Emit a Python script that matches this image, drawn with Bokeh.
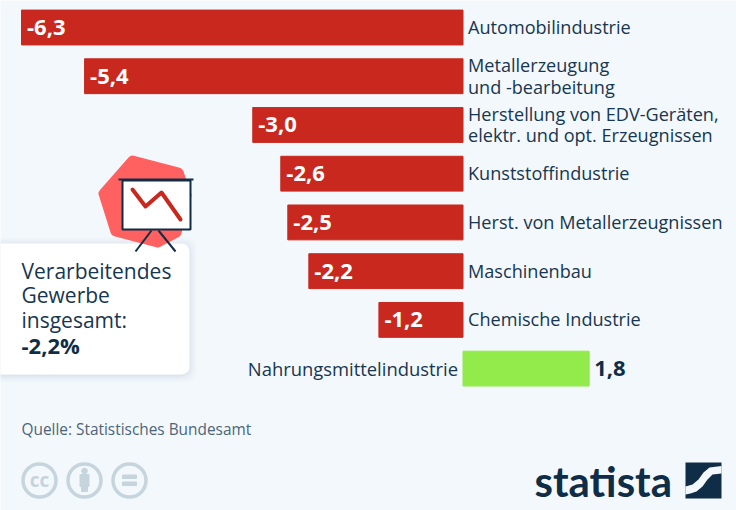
from bokeh.plotting import figure
from bokeh.models import Range1d
from bokeh.core.properties import value
from bokeh.embed import file_html
from bokeh.resources import INLINE

# ---- data
categories = ["Automobilindustrie", "Metallerzeugung\nund -bearbeitung",
              "Herstellung von EDV-Geräten,\nelektr. und opt. Erzeugnissen",
              "Kunststoffindustrie", "Herst. von Metallerzeugnissen",
              "Maschinenbau", "Chemische Industrie", "Nahrungsmittelindustrie"]
values = [-6.3, -5.4, -3.0, -2.6, -2.5, -2.2, -1.2, 1.8]
value_labels = ["-6,3", "-5,4", "-3,0", "-2,6", "-2,5", "-2,2", "-1,2", "1,8"]
callout_lines = ["Verarbeitendes", "Gewerbe", "insgesamt:"]
callout_total = "-2,2%"
source = "Quelle: Statistisches Bundesamt"

BG, RED, GREEN, NAVY = "#f3f8fc", "#c9281f", "#92eb4b", "#0f2d47"
LABEL, GREY, SALMON = "#17364f", "#c6d4dd", "#ff6060"
FONT = value("Open Sans")

W, H = 736, 510
p = figure(width=W, height=H, output_backend="svg", toolbar_location=None,
           x_range=Range1d(-6.5996, 3.9025), y_range=Range1d(9.9114, -0.5541),
           background_fill_color=BG, border_fill_color=BG, outline_line_color=None,
           min_border=0, min_border_left=0, min_border_right=0, min_border_top=0, min_border_bottom=0)
p.axis.visible = False
p.grid.visible = False
# overlay scale in page pixels for the decoration
p.extra_x_ranges["px"] = Range1d(0, 736)
p.extra_y_ranges["px"] = Range1d(510, 0)
PX = dict(x_range_name="px", y_range_name="px")

# ---- bars
idx = list(range(len(values)))
left = [min(v, 0) for v in values]
right = [max(v, 0) for v in values]
colors = [RED if v < 0 else GREEN for v in values]
p.hbar(y=idx, left=left, right=right, height=0.715, color=colors)

# ---- value labels and category labels
neg = [i for i in idx if values[i] < 0]
pos = [i for i in idx if values[i] > 0]
p.text(x=[values[i] for i in neg], y=neg, text=[value_labels[i] for i in neg], x_offset=5.5,
       text_font=FONT, text_font_style="bold", text_font_size="22px", text_color="white",
       text_baseline="middle", text_align="left")
p.text(x=[values[i] for i in pos], y=pos, text=[value_labels[i] for i in pos], x_offset=5,
       text_font=FONT, text_font_style="bold", text_font_size="22px", text_color=NAVY,
       text_baseline="middle", text_align="left")
p.text(x=[0] * len(neg), y=neg, text=[categories[i] for i in neg], x_offset=5,
       text_font=FONT, text_font_size="18.1px", text_color=LABEL, text_baseline="middle",
       text_align="left", text_line_height=0.9, y_offset=-0.5)
p.text(x=[0] * len(pos), y=pos, text=[categories[i] for i in pos], x_offset=-5,
       text_font=FONT, text_font_size="18.4px", text_color=LABEL, text_baseline="middle",
       text_align="right", y_offset=-0.5)

# ---- callout box with a soft shadow
for grow, a in [(7, 0.02), (5, 0.03), (3, 0.04), (1, 0.05)]:
    p.quad(left=[-10], right=[189 + grow], top=[243 - grow + 1], bottom=[374 + grow + 1],
           color="#6a7f90", alpha=a, line_color=None, border_radius=10, **PX)
p.quad(left=[-10], right=[189], top=[243], bottom=[374], fill_color="white", line_color=None,
       border_radius=8, **PX)
p.text(x=[21] * 3, y=[270, 294, 319], text=callout_lines, text_font=FONT, text_font_size="21px",
       text_color=LABEL, text_baseline="middle", **PX)
p.text(x=[21], y=[344], text=[callout_total], text_font=FONT, text_font_style="bold",
       text_font_size="22px", text_color=NAVY, text_baseline="middle", **PX)

# ---- presentation icon
p.patch([103, 132, 178, 186, 176, 157, 115], [193, 160, 172, 195, 232, 242, 231],
        fill_color=SALMON, line_color=SALMON, line_width=10, line_join="round", **PX)
p.quad(left=[122], right=[190], top=[180], bottom=[229], fill_color="white",
       line_color=NAVY, line_width=2, **PX)
p.line([118, 193], [179, 179], line_color=NAVY, line_width=2, **PX)
p.line([132, 145, 161, 180], [189, 206, 192, 219], line_color=RED, line_width=4,
       line_join="round", line_cap="round", **PX)
p.segment([151, 158], [230, 230], [135, 175], [251, 251], line_color=NAVY, line_width=2, **PX)

# ---- source
p.text(x=[21], y=[428.5], text=[source], text_font=FONT, text_font_size="15.4px",
       text_color="#4c6579", text_baseline="middle", **PX)

# ---- licence icons
p.circle(x=[39, 84, 129], y=[480, 480, 480], radius=16.5, fill_color=None, line_color=GREY,
         line_width=3.5, **PX)
p.text(x=[39], y=[479], text=["cc"], text_font=FONT, text_font_style="bold", text_font_size="19px",
       text_color=GREY, text_align="center", text_baseline="middle", **PX)
p.circle(x=[84], y=[470.5], radius=2.8, color=GREY, **PX)
p.quad(left=[79.5], right=[88.5], top=[474], bottom=[486], color=GREY, **PX)
p.quad(left=[81], right=[87], top=[485], bottom=[491], color=GREY, **PX)
p.quad(left=[122, 122], right=[136, 136], top=[474.5, 481.5], bottom=[478, 485], color=GREY, **PX)

# ---- logo
p.text(x=[534], y=[480.5], text=["statista"], text_font=value("Lato"), text_font_style="bold",
       text_font_size="42px", text_color=NAVY, text_baseline="middle", **PX)
p.quad(left=[685], right=[721], top=[462], bottom=[498], color=NAVY, line_color=None, **PX)
p.patch([685, 692, 698, 703, 709, 721, 721, 712, 707, 702, 696, 690, 685],
        [486, 484, 479, 472, 467, 465.5, 473, 474, 479, 486, 491, 493, 494],
        color=BG, line_color=None, **PX)

open("out.html", "w").write(file_html(p, INLINE))
